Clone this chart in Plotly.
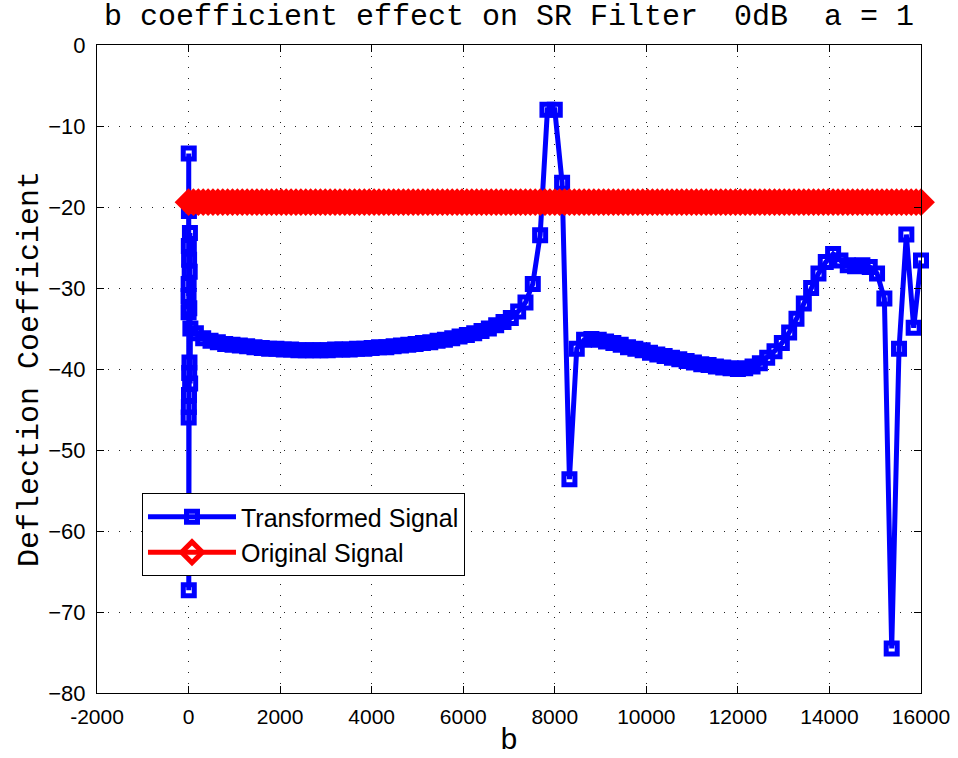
import numpy as np
import plotly.graph_objects as go

# ---- data ----
# transformed signal: dense cluster at b ~ 0, then b = 160 ... 16000 step 160
b_cluster = [0, 1, 2, 3, 4, 5, 6, 7, 8, 10, 12, 14, 16, 20, 25, 30, 35, 40]
v_cluster = [-31.0, -33.0, -29.5, -46.0, -13.4, -67.3, -24.8, -44.7,
             -20.5, -43.2, -26.5, -40.5, -32.5, -39.2, -28.0, -23.2, -41.8, -35.0]

b_main = list(range(160, 16001, 160))
v_main = [
    -35.6, -36.2, -36.5, -36.7, -36.9, -37.0, -37.1, -37.2, -37.3, -37.4,
    -37.5, -37.5, -37.6, -37.6, -37.7, -37.7, -37.7, -37.7, -37.7, -37.6,
    -37.6, -37.6, -37.5, -37.5, -37.4, -37.3, -37.3, -37.2, -37.1, -37.0,
    -36.9, -36.8, -36.7, -36.5, -36.4, -36.2, -36.0, -35.8, -35.6, -35.3,
    -35.0, -34.6, -34.2, -33.7, -32.9, -31.8, -29.5, -23.5, -8.0, -8.0,
    -17.0, -53.6, -37.5, -36.4,
    -36.3, -36.4, -36.6, -36.8, -37.0, -37.3, -37.5, -37.7, -38.0, -38.2,
    -38.4, -38.6, -38.8, -39.0, -39.2, -39.4, -39.5, -39.7, -39.8, -39.9,
    -40.0, -39.9, -39.7, -39.3, -38.6, -37.8, -36.8, -35.5, -33.8, -31.9,
    -30.0, -28.2, -26.8, -25.8, -26.6, -27.2, -27.3, -27.2, -27.4, -28.2,
    -31.3, -74.5, -37.5, -23.4, -34.9, -26.6,
]

b_transformed = b_cluster + b_main
v_transformed = v_cluster + v_main

# original signal: constant level
b_original = list(np.linspace(0, 16000, 151))
v_original = [-19.4] * len(b_original)

x_ticks = [-2000, 0, 2000, 4000, 6000, 8000, 10000, 12000, 14000, 16000]
x_ticktext = ["-2000", "0", "2000", "4000", "6000", "8000", "10000", "12000", "14000", "16000"]
y_ticks = [0, -10, -20, -30, -40, -50, -60, -70, -80]
y_ticktext = ["0", "\u221210", "\u221220", "\u221230", "\u221240", "\u221250", "\u221260", "\u221270", "\u221280"]

fig = go.Figure()
fig.add_trace(go.Scatter(
    x=b_transformed, y=v_transformed, mode="lines+markers",
    name="Transformed Signal", cliponaxis=False,
    line=dict(color="#0000FF", width=5),
    marker=dict(symbol="square-open", size=11, color="#0000FF",
                line=dict(color="#0000FF", width=5)),
))
fig.add_trace(go.Scatter(
    x=b_original, y=v_original, mode="lines+markers",
    name="Original Signal", cliponaxis=False,
    line=dict(color="#FF0000", width=5),
    marker=dict(symbol="diamond-open", size=16, color="#FF0000",
                line=dict(color="#FF0000", width=5)),
))

mono = "Liberation Mono, Courier New, monospace"
axis_common = dict(
    showline=True, linecolor="black", linewidth=1, mirror="ticks",
    ticks="inside", ticklen=7, tickcolor="black", tickwidth=1,
    showgrid=True, gridcolor="#222222", gridwidth=1, griddash="1px,10px",
    zeroline=False, automargin=False,
)

fig.update_layout(
    width=958, height=758,
    margin=dict(l=97, r=37, t=45, b=65, autoexpand=False),
    paper_bgcolor="white", plot_bgcolor="white",
    title=dict(text="b coefficient effect on SR Filter  0dB  a = 1",
               font=dict(family=mono, size=30, color="black"),
               x=0.5, xref="paper", xanchor="center",
               y=1, yref="container", yanchor="top", pad=dict(t=4)),
    xaxis=dict(range=[-2000, 16000], tickmode="array", tickvals=x_ticks,
               ticktext=x_ticktext,
               tickfont=dict(family="Liberation Sans Narrow, Liberation Sans, Arial", size=21, color="black"),
               ticklabelstandoff=5,
               title=dict(text="b", font=dict(family=mono, size=30, color="black"), standoff=2),
               **axis_common),
    yaxis=dict(range=[-80, 0], tickmode="array", tickvals=y_ticks,
               ticktext=y_ticktext,
               tickfont=dict(family="Liberation Sans, Arial", size=22, color="black"),
               ticklabelstandoff=6,
               title=dict(text="Deflection Coefficient", font=dict(family=mono, size=30, color="black"), standoff=0),
               **axis_common),
    legend=dict(x=0.0546, y=0.3086, xanchor="left", yanchor="top",
                bgcolor="white", bordercolor="black", borderwidth=1,
                font=dict(family="Liberation Sans, Arial", size=25, color="black"),
                itemwidth=88, tracegroupgap=0),
    showlegend=True,
)

fig.write_html("out.html")
